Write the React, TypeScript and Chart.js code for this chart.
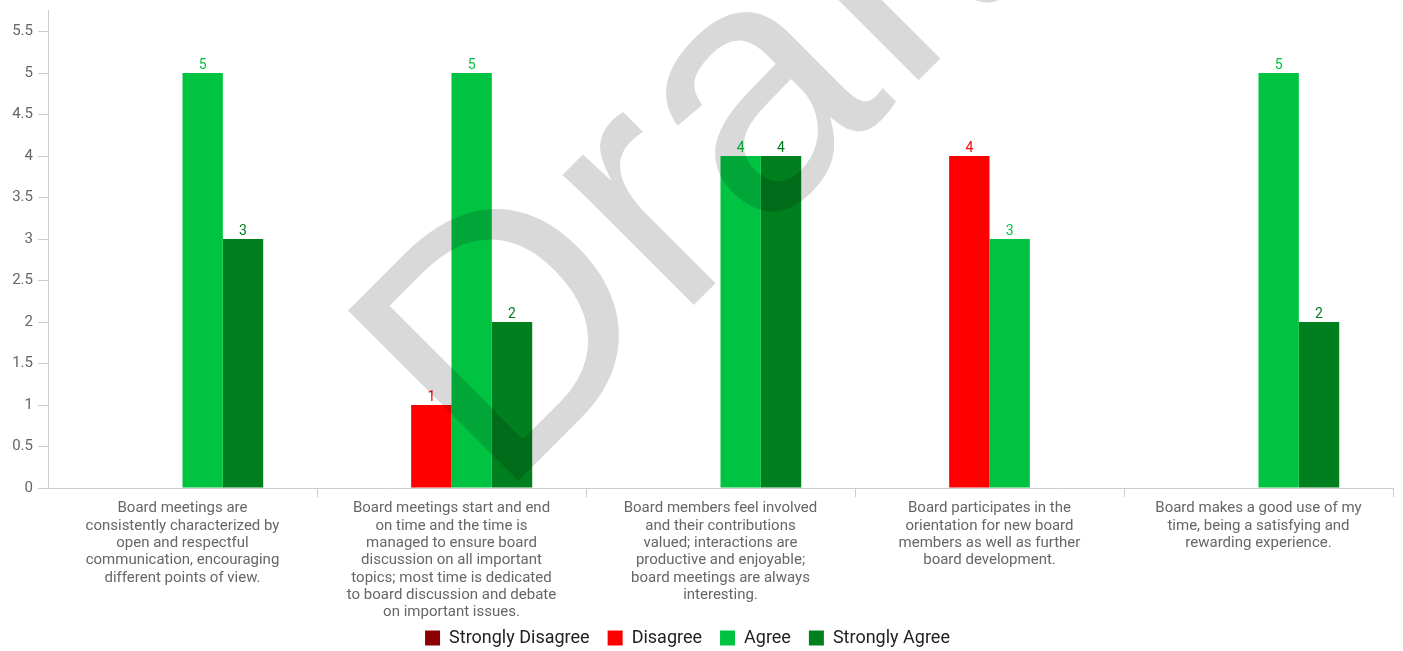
import React, { useEffect, useRef } from 'react';
import { Chart, registerables } from 'chart.js';

Chart.register(...registerables);

// Survey statements, pre-wrapped into lines for the category axis
const categories: string[][] = [
  ['Board meetings are', 'consistently characterized by', 'open and respectful', 'communication, encouraging', 'different points of view.'],
  ['Board meetings start and end', 'on time and the time is', 'managed to ensure board', 'discussion on all important', 'topics; most time is dedicated', 'to board discussion and debate', 'on important issues.'],
  ['Board members feel involved', 'and their contributions', 'valued; interactions are', 'productive and enjoyable;', 'board meetings are always', 'interesting.'],
  ['Board participates in the', 'orientation for new board', 'members as well as further', 'board development.'],
  ['Board makes a good use of my', 'time, being a satisfying and', 'rewarding experience.'],
];

const seriesNames = ['Strongly Disagree', 'Disagree', 'Agree', 'Strongly Agree'];
const stronglyDisagree = [0, 0, 0, 0, 0];
const disagree = [0, 1, 0, 4, 0];
const agree = [5, 5, 4, 3, 5];
const stronglyAgree = [3, 2, 4, 0, 2];

const yTicks = [0, 0.5, 1, 1.5, 2, 2.5, 3, 3.5, 4, 4.5, 5, 5.5];
const yMax = 5.76;

const seriesColors = ['#8b0000', '#ff0000', '#00c441', '#007f1f'];
const watermarkText = 'Draft';

// Writes each non-zero value above its bar in the bar's colour
const valueLabels = {
  id: 'valueLabels',
  afterDatasetsDraw(chart: any) {
    const { ctx } = chart;
    ctx.save();
    ctx.font = '14px Roboto';
    ctx.textAlign = 'center';
    ctx.textBaseline = 'alphabetic';
    chart.data.datasets.forEach((ds: any, i: number) => {
      const meta = chart.getDatasetMeta(i);
      if (meta.hidden) return;
      meta.data.forEach((bar: any, j: number) => {
        const v = ds.data[j];
        if (!v) return;
        ctx.fillStyle = ds.backgroundColor;
        ctx.fillText(String(v), bar.x, bar.y - 4);
      });
    });
    ctx.restore();
  },
};

// Large diagonal watermark, kept above the category axis
const watermark = {
  id: 'watermark',
  afterDraw(chart: any) {
    const { ctx, chartArea } = chart;
    ctx.save();
    ctx.beginPath();
    ctx.rect(0, 0, chart.width, chartArea.bottom);
    ctx.clip();
    ctx.translate(chartArea.left + 450, chartArea.bottom + 13);
    ctx.rotate(-Math.PI / 4);
    ctx.font = '350px "Liberation Sans"';
    ctx.textAlign = 'left';
    ctx.textBaseline = 'alphabetic';
    ctx.fillStyle = 'rgba(0,0,0,0.15)';
    ctx.fillText(watermarkText, 0, 0);
    ctx.restore();
  },
};

// Lets the wrapped category labels run past the axis box, and nudges the legend row
const layoutTweaks = {
  id: 'layoutTweaks',
  afterLayout(chart: any) {
    const x = chart.scales.x;
    if (x) x.bottom = chart.height;
    if (chart.legend) {
      chart.legend.left -= 14;
      chart.legend.right -= 14;
    }
  },
};

export default function App() {
  const canvasRef = useRef<HTMLCanvasElement | null>(null);

  useEffect(() => {
    document.body.style.margin = '0';
    const canvas = canvasRef.current;
    if (!canvas) return;
    const values = [stronglyDisagree, disagree, agree, stronglyAgree];
    const lastBoundary = categories.length;
    const chart = new Chart(canvas, {
      type: 'bar',
      data: {
        labels: categories,
        datasets: seriesNames.map((name, i) => ({
          label: name,
          data: values[i],
          backgroundColor: seriesColors[i],
          borderWidth: 0,
          barPercentage: 1,
          categoryPercentage: 0.6,
        })),
      },
      options: {
        responsive: false,
        animation: false,
        layout: { padding: { top: 10, left: 10, right: 10, bottom: -6 } },
        scales: {
          x: {
            grid: {
              display: true,
              drawOnChartArea: false,
              offset: true,
              color: '#cccccc',
              tickColor: (c: any) => (c.index === 0 || c.index === lastBoundary ? 'rgba(0,0,0,0)' : '#cccccc'),
              tickLength: 9,
            },
            border: { color: '#cccccc' },
            ticks: {
              color: '#666666',
              font: { family: 'Roboto', size: 15, lineHeight: 1.155 },
              maxRotation: 0,
              autoSkip: false,
              padding: 3,
            },
            afterFit(scale: any) {
              scale.height = 123;
            },
          },
          y: {
            min: 0,
            max: yMax,
            grid: { display: true, drawOnChartArea: false, color: '#cccccc', tickLength: 10 },
            border: { color: '#cccccc' },
            ticks: {
              color: '#666666',
              font: { family: 'Roboto', size: 15, lineHeight: 0.6 },
              padding: 5,
              callback: (v: any) => String(v),
            },
            afterBuildTicks(scale: any) {
              scale.ticks = yTicks.map((v) => ({ value: v }));
            },
            afterFit(scale: any) {
              scale.width = 38;
            },
          },
        },
        plugins: {
          legend: {
            position: 'bottom',
            labels: {
              boxWidth: 15,
              boxHeight: 15,
              padding: 18,
              color: '#222222',
              font: { family: 'Roboto', size: 18 },
            },
          },
          tooltip: { enabled: false },
        },
      },
      plugins: [valueLabels, watermark, layoutTweaks],
    });
    return () => chart.destroy();
  }, []);

  return (
    <div style={{ width: 1403, height: 651 }}>
      <canvas ref={canvasRef} width={1403} height={651} />
    </div>
  );
}
